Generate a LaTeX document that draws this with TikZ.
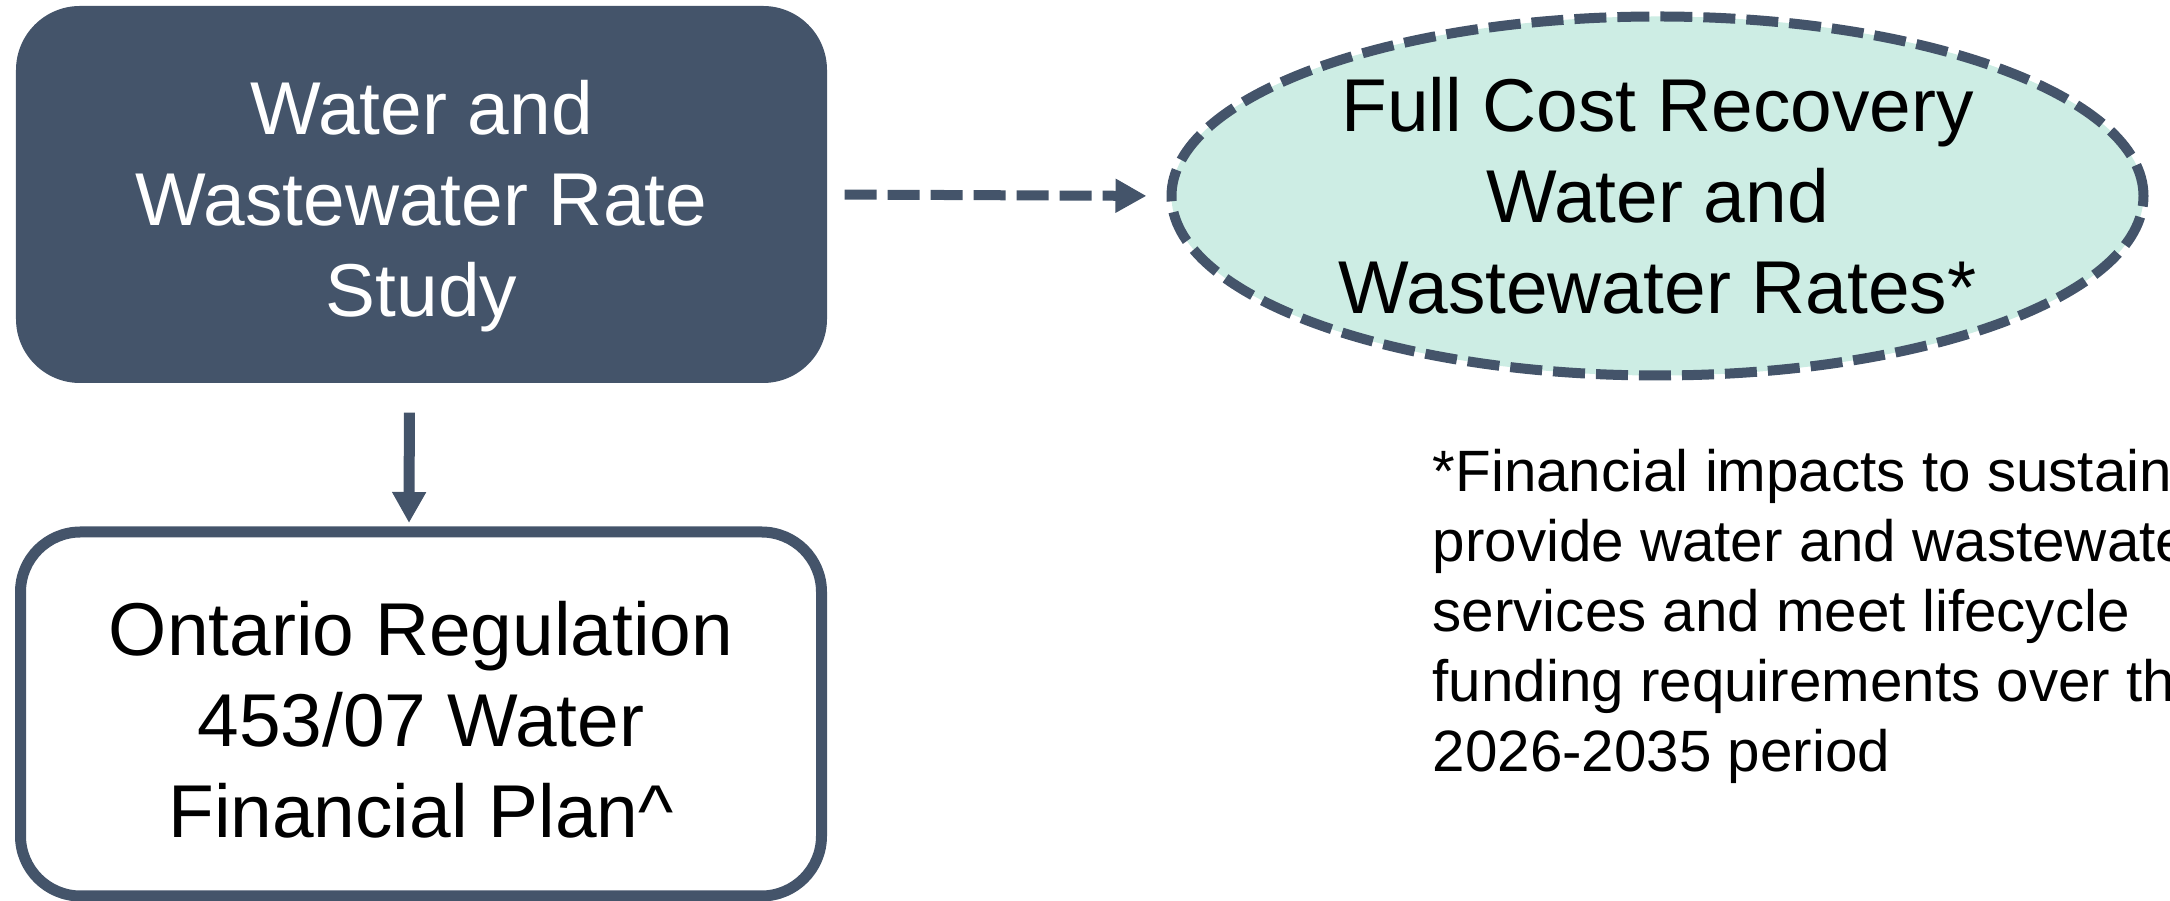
\documentclass[tikz,border=0pt]{standalone}
\usepackage{fontspec}
\setmainfont{Liberation Sans}
\usetikzlibrary{positioning,arrows.meta,shapes.geometric}
\definecolor{slatedark}{HTML}{44546A}
\definecolor{mintfill}{HTML}{CDEDE4}

\begin{document}
\begin{tikzpicture}[
    every node/.style={font=\fontsize{21.3}{25.9}\selectfont},
    darkbox/.style={fill=slatedark, rounded corners=0.64cm, text=white, align=center, minimum width=8.11cm, minimum height=3.77cm, inner sep=0pt},
    lightbox/.style={draw=slatedark, line width=0.11cm, fill=white, rounded corners=0.6cm, align=center, minimum width=8.01cm, minimum height=3.64cm, inner sep=0pt},
    goal/.style={ellipse, draw=slatedark, fill=mintfill, line width=0.1cm, dash pattern=on 0.32cm off 0.11cm, align=center, minimum width=9.72cm, minimum height=3.59cm, inner xsep=0pt, inner ysep=-1mm},
    link/.style={slatedark, line width=0.11cm, -{Triangle[length=0.31cm, width=0.32cm]}},
    note/.style={font=\fontsize{16.6}{19.9}\selectfont, align=left, inner sep=0pt}
  ]
    \useasboundingbox (0,0) rectangle (21.7,9.01);
    \clip (0,0) rectangle (21.7,9.01);

    % boxes
    \node[darkbox] (study) at (4.215,7.065) {\rule{0pt}{22pt}Water and\\Wastewater Rate\\Study};
    \node[lightbox] (plan) at (4.21,1.87) {\rule{0pt}{18.5pt}Ontario Regulation\\453/07 Water\\Financial Plan\textasciicircum};
    \node[goal] (rates) at (16.575,7.05) {Full Cost Recovery\\Water and\\Wastewater Rates*};

    % arrows
    \draw[link, shorten <=0.29cm, shorten >=0.035cm] ([xshift=-1.2mm]study.south) -- ([xshift=-1.2mm]plan.north);
    \draw[link, line width=0.1cm, dash pattern=on 0.32cm off 0.11cm, shorten <=0.17cm, shorten >=0.2cm] (study.east) -- (rates.west);

    % footnote
    \node[note, anchor=north west] (footnote) at (14.32,4.52) {*Financial impacts to sustainably\\provide water and wastewater\\services and meet lifecycle\\funding requirements over the\\2026-2035 period};
\end{tikzpicture}
\end{document}
